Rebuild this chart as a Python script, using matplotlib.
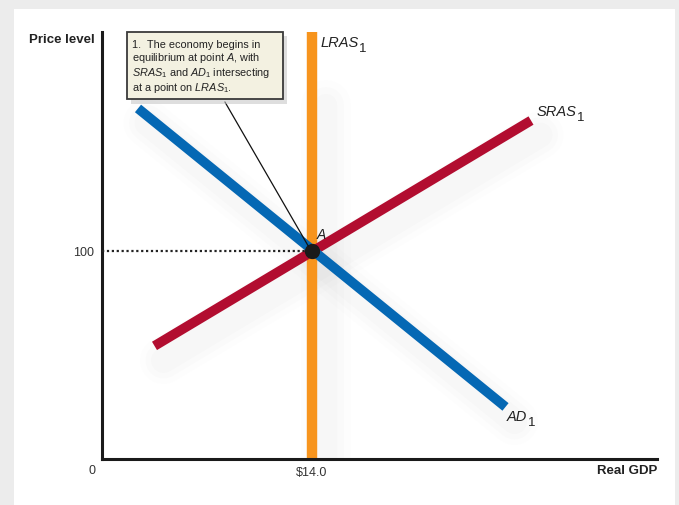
import matplotlib.pyplot as plt
from matplotlib.patches import Rectangle

plt.rcParams['font.family'] = ['Liberation Sans', 'DejaVu Sans']
plt.rcParams['mathtext.fontset'] = 'custom'
plt.rcParams['mathtext.rm'] = 'Liberation Sans'
plt.rcParams['mathtext.it'] = 'Liberation Sans:italic'

# curve end points (real GDP, price level)
ad_x = [2.4, 26.9]
ad_y = [168.3, 25.0]
sras_x = [3.5, 28.6]
sras_y = [54.3, 162.5]
lras_x = 14.0
eq_x, eq_y = 14.0, 100.0

x_ticks = [14.0]
x_labels = ['$14.0']
y_ticks = [100]
y_labels = ['100']

W, H = 679, 506
fig = plt.figure(figsize=(W / 100, H / 100), dpi=100)
fig.patch.set_facecolor('#ececec')
fig.add_artist(Rectangle((14 / W, 0), (675 - 14) / W, (506 - 10) / H,
                         transform=fig.transFigure, facecolor='white',
                         edgecolor='none', zorder=0))

ax = fig.add_axes([102 / W, (H - 460) / H, (657 - 102) / W, (460 - 33) / H])
ax.set_facecolor('none')
ax.set_xlim(0, 37)
ax.set_ylim(0, 205)

# soft shadows under the curves
for xs, ys in [(ad_x, ad_y), (sras_x, sras_y)]:
    for lw, a in [(34, 0.012), (26, 0.018), (18, 0.025)]:
        ax.plot([x + 0.6 for x in xs], [y - 7 for y in ys], color='gray',
                lw=lw, alpha=a, solid_capstyle='round', zorder=1)
for lw, a in [(36, 0.012), (26, 0.018), (16, 0.025)]:
    ax.plot([lras_x + 0.9] * 2, [0, 170], color='gray', lw=lw, alpha=a,
            solid_capstyle='round', zorder=1)

ax.axvline(lras_x, color='#f7941d', lw=7.5, zorder=2)
ax.plot(sras_x, sras_y, color='#b20d30', lw=7, solid_capstyle='butt', zorder=3)
ax.plot(ad_x, ad_y, color='#0568b4', lw=7, solid_capstyle='butt', zorder=4)

ax.plot([0, eq_x], [eq_y, eq_y], color='#222222', lw=1.6, ls=(0, (1, 1.2)), zorder=5)
ax.plot(eq_x, eq_y, 'o', color='#1a1a1a', ms=10, zorder=6)
ax.text(eq_x + 0.3, eq_y + 6, 'A', style='italic', fontsize=10, color='#222222', zorder=6)


def curve_label(x, y, name):
    t = ax.text(x, y, name, style='italic', fontsize=10.5, color='#222222', va='center')
    ax.annotate('1', xy=(1, 0), xycoords=t, xytext=(0.3, -3.5),
                textcoords='offset points', fontsize=9.5, color='#222222',
                va='bottom', ha='left')


curve_label(lras_x + 0.55, 200, 'LRAS')
curve_label(sras_x[1] + 0.4, 167, 'SRAS')
curve_label(ad_x[1] + 0.1, 20.5, 'AD')

# callout box
note = ('1.  The economy begins in\nequilibrium at point $A$, with\n'
        '$SRAS_1$ and $AD_1$ intersecting\nat a point on $LRAS_1$.')
ax.annotate('', xy=(eq_x - 0.15, eq_y + 1), xytext=(8.1, 172.6),
            arrowprops=dict(arrowstyle='-', color='#111111', lw=0.9), zorder=7)
ax.add_patch(Rectangle((1.95, 170.5), 10.4, 32.7, facecolor='#c4c4c4',
                       edgecolor='none', alpha=0.55, zorder=7, clip_on=False))
ax.add_patch(Rectangle((1.67, 172.6), 10.4, 32.4, facecolor='#f3f1e1',
                       edgecolor='#3a3a3a', lw=1.3, zorder=8, clip_on=False))
ax.text(1.98, 201.6, note, fontsize=7.8, color='#222222', va='top', ha='left',
        linespacing=1.1, zorder=9)

for side in ['top', 'right']:
    ax.spines[side].set_visible(False)
for side in ['left', 'bottom']:
    ax.spines[side].set_linewidth(2.2)
    ax.spines[side].set_color('#1a1a1a')

ax.set_xticks(x_ticks)
ax.set_xticklabels(x_labels)
ax.set_yticks(y_ticks)
ax.set_yticklabels(y_labels)
ax.tick_params(length=0, labelsize=9, colors='#333333')
ax.tick_params(axis='x', pad=5)
ax.tick_params(axis='y', pad=6)

fig.text(92 / W, 1 - 471 / H, '0', fontsize=9, ha='center', va='center', color='#333333')
fig.text(95 / W, 1 - 40 / H, 'Price level', fontsize=9.5, fontweight='bold',
         ha='right', va='center', color='#222222')
fig.text(657 / W, 1 - 471 / H, 'Real GDP', fontsize=9.5, fontweight='bold',
         ha='right', va='center', color='#222222')

fig.savefig('out.png', dpi=100, facecolor=fig.get_facecolor())
